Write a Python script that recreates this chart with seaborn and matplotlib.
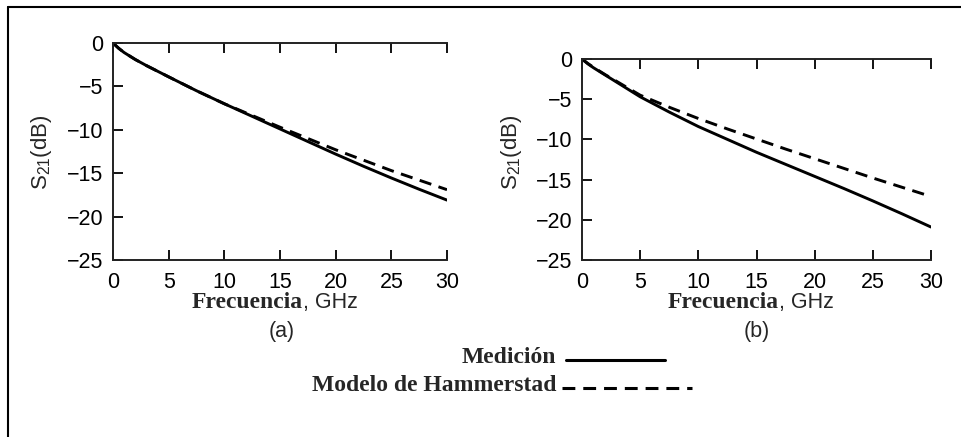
import numpy as np
import pandas as pd
import seaborn as sns
import matplotlib
matplotlib.use("Agg")
import matplotlib.pyplot as plt
from matplotlib.lines import Line2D

# Frequency grid (GHz)
freq = [0, 0.5, 1, 2, 3, 5, 7.5, 10, 12.5, 15, 17.5, 20, 22.5, 25, 27.5, 30]

# (a) S21 in dB
meas_a = [0, -0.6, -1.1, -1.9, -2.6, -3.9, -5.5, -7.0, -8.45, -9.9, -11.35, -12.8, -14.2, -15.55, -16.85, -18.1]
model_a = [0, -0.6, -1.1, -1.9, -2.6, -3.9, -5.5, -7.0, -8.35, -9.7, -11.0, -12.3, -13.5, -14.7, -15.8, -16.9]

# (b) S21 in dB
meas_b = [0, -0.6, -1.1, -2.0, -2.9, -4.7, -6.6, -8.4, -10.0, -11.6, -13.1, -14.6, -16.1, -17.65, -19.25, -20.9]
model_b = [0, -0.55, -1.05, -1.95, -2.8, -4.5, -6.0, -7.4, -8.7, -9.95, -11.2, -12.4, -13.6, -14.8, -15.95, -17.1]

xticks = [0, 5, 10, 15, 20, 25, 30]
yticks = [0, -5, -10, -15, -20, -25]

sns.set_style("white")
plt.rcParams["font.family"] = ["Liberation Sans", "DejaVu Sans"]
plt.rcParams["mathtext.fontset"] = "custom"
plt.rcParams["mathtext.rm"] = "Liberation Sans"

W, H = 961, 437
fig = plt.figure(figsize=(W / 100, H / 100), dpi=100)


def px_axes(left, top, right, bottom):
    return fig.add_axes([left / W, 1 - bottom / H, (right - left) / W, (bottom - top) / H])


def fy(y):
    return 1 - y / H


dash_style = (0, (4.2, 2.6))
panels = [
    (px_axes(113, 43, 447, 260), meas_a, model_a, 42),
    (px_axes(582, 59, 931, 260), meas_b, model_b, 511),
]

for ax, meas, model, ylab_x in panels:
    df = pd.DataFrame({"f": freq, "meas": meas, "model": model})
    sns.lineplot(data=df, x="f", y="model", ax=ax, color="black", lw=2.1,
                 linestyle=dash_style)
    sns.lineplot(data=df, x="f", y="meas", ax=ax, color="black", lw=2.1)
    ax.set_xlim(0, 30)
    ax.set_ylim(-25, 0)
    ax.set_xticks(xticks)
    ax.set_yticks(yticks)
    ax.set_xticklabels([str(t) for t in xticks])
    ax.set_yticklabels(["0" if t == 0 else "\u2212" + str(-t) for t in yticks])
    ax.tick_params(axis="both", which="both", direction="in", length=7.5, width=1.3,
                   labelsize=15.5, colors="black")
    ax.tick_params(axis="x", top=True, bottom=True, pad=8.5)
    ax.tick_params(axis="y", left=True, right=False, pad=7)
    for side in ["left", "top", "bottom"]:
        ax.spines[side].set_visible(True)
        ax.spines[side].set_color("#222222")
        ax.spines[side].set_linewidth(1.4)
    ax.spines["right"].set_visible(False)
    ax.set_xlabel("")
    ax.set_ylabel("")
    ax.set_facecolor("white")

    # y-axis label
    fig.text(ylab_x / W, fy(152), r"S$_{21}$(dB)", rotation=90, fontsize=16,
             ha="center", va="center")

# x-axis labels: bold serif word + sans unit
for x_split in [303, 779]:
    fig.text(x_split / W, fy(308), "Frecuencia", fontsize=17, fontweight="bold",
             family="Liberation Serif", ha="right", va="baseline")
    fig.text(x_split / W, fy(308), ", GHz", fontsize=15.5, ha="left", va="baseline")

fig.text(282 / W, fy(337), "(a)", fontsize=15.5, ha="center", va="baseline")
fig.text(757 / W, fy(337), "(b)", fontsize=15.5, ha="center", va="baseline")

# legend
fig.text(556 / W, fy(363), "Medición", fontsize=17, fontweight="bold",
         family="Liberation Serif", ha="right", va="baseline")
fig.add_artist(Line2D([566 / W, 665 / W], [fy(360), fy(360)], color="black", lw=2.2))
fig.text(556 / W, fy(391), "Modelo de Hammerstad", fontsize=17, fontweight="bold",
         family="Liberation Serif", ha="right", va="baseline")
fig.add_artist(Line2D([562 / W, 692 / W], [fy(388), fy(388)], color="black", lw=2.2,
                      linestyle=(0, (4.2, 2.6))))

# frame lines along the top and left edges
fig.add_artist(Line2D([8 / W, 1.0], [fy(6.5), fy(6.5)], color="black", lw=1.5))
fig.add_artist(Line2D([8 / W, 8 / W], [0, fy(6.5)], color="black", lw=1.5))

fig.savefig("out.png", dpi=100, facecolor="white")
